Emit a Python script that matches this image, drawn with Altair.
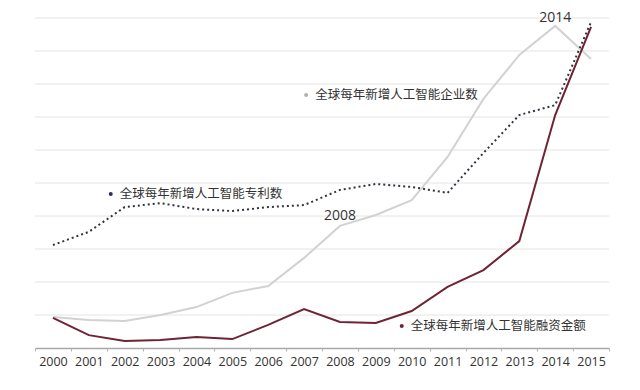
import altair as alt
import pandas as pd

years = [str(y) for y in range(2000, 2016)]
patents = [3.12, 3.52, 4.27, 4.39, 4.21, 4.15, 4.27, 4.33, 4.79, 4.97, 4.88, 4.70, 5.91, 7.06, 7.36, 9.88]
companies = [0.94, 0.85, 0.82, 1.00, 1.24, 1.67, 1.88, 2.73, 3.70, 4.03, 4.48, 5.79, 7.55, 8.88, 9.76, 8.76]
funding = [0.91, 0.39, 0.21, 0.24, 0.33, 0.27, 0.70, 1.18, 0.79, 0.76, 1.12, 1.85, 2.36, 3.24, 7.06, 9.73]
grid_values = [1, 2, 3, 4, 5, 6, 7, 8, 9, 10]

label_names = ["全球每年新增人工智能企业数", "全球每年新增人工智能专利数", "全球每年新增人工智能融资金额"]
label_years = ["2007", "2002", "2010"]
label_values = [7.67, 4.67, 0.67]
dot_dx = [20, 4, 8]
text_dx = [29, 13, 17]
label_colors = ["#b0b0b0", "#2e2e5e", "#6e2434"]

note_texts = ["2014", "2008"]
note_years = ["2014", "2008"]
note_values = [10.0, 4.0]

df = pd.DataFrame({"year": years, "patents": patents, "companies": companies, "funding": funding})
labels = pd.DataFrame({"name": label_names, "year": label_years, "v": label_values,
                       "ddx": dot_dx, "tdx": text_dx, "color": label_colors})
notes = pd.DataFrame({"t": note_texts, "year": note_years, "v": note_values})
grid = pd.DataFrame({"g": grid_values})

xscale = alt.Scale(type="band", domain=years, paddingInner=0, paddingOuter=0)
yscale = alt.Scale(domain=[0, 10])

xaxis = alt.Axis(labelAngle=0, tickBand="extent", labelFont="Open Sans", labelFontSize=12.5,
                 labelColor="#333333", domain=True, domainColor="#a8a8a8", domainWidth=1.5,
                 tickColor="#b8b8b8", tickSize=3, labelPadding=4, grid=False)


def X():
    return alt.X("year:O", scale=xscale, title=None, axis=xaxis)


def Y(field):
    return alt.Y(field, scale=yscale, title=None, axis=None)


grid_rules = alt.Chart(grid).mark_rule(color="#e4e4e4", strokeWidth=1).encode(y=Y("g:Q"))

base = alt.Chart(df)
company_line = base.mark_line(color="#d2d2d2", strokeWidth=2).encode(x=X(), y=Y("companies:Q"))
patent_line = base.mark_line(color="#333340", strokeWidth=2, strokeDash=[2, 3]).encode(
    x=X(), y=Y("patents:Q"))
funding_line = base.mark_line(color="#6e2434", strokeWidth=2).encode(x=X(), y=Y("funding:Q"))

lab = alt.Chart(labels)
dots = lab.mark_circle(size=16, opacity=1).encode(
    x=X(), y=Y("v:Q"),
    color=alt.Color("color:N", scale=None), xOffset=alt.XOffset("ddx:Q", scale=None))
texts = lab.mark_text(align="left", baseline="middle", font="Noto Sans CJK SC", fontSize=12.5,
                      color="#333333").encode(
    x=X(), y=Y("v:Q"),
    text="name:N", xOffset=alt.XOffset("tdx:Q", scale=None))

note_marks = alt.Chart(notes).mark_text(font="Open Sans", fontSize=14, color="#333333",
                                        baseline="middle").encode(
    x=X(), y=Y("v:Q"), text="t:N")

chart = alt.layer(grid_rules, company_line, patent_line, funding_line, dots, texts,
                  note_marks).properties(
    width=574, height=330,
    background="white",
    autosize=alt.AutoSizeParams(type="none"),
    padding={"left": 27, "top": 10, "right": 23, "bottom": 34},
).configure_view(stroke=None, strokeWidth=0)

chart.save("out.html", embed_options={"renderer": "svg", "actions": False})
